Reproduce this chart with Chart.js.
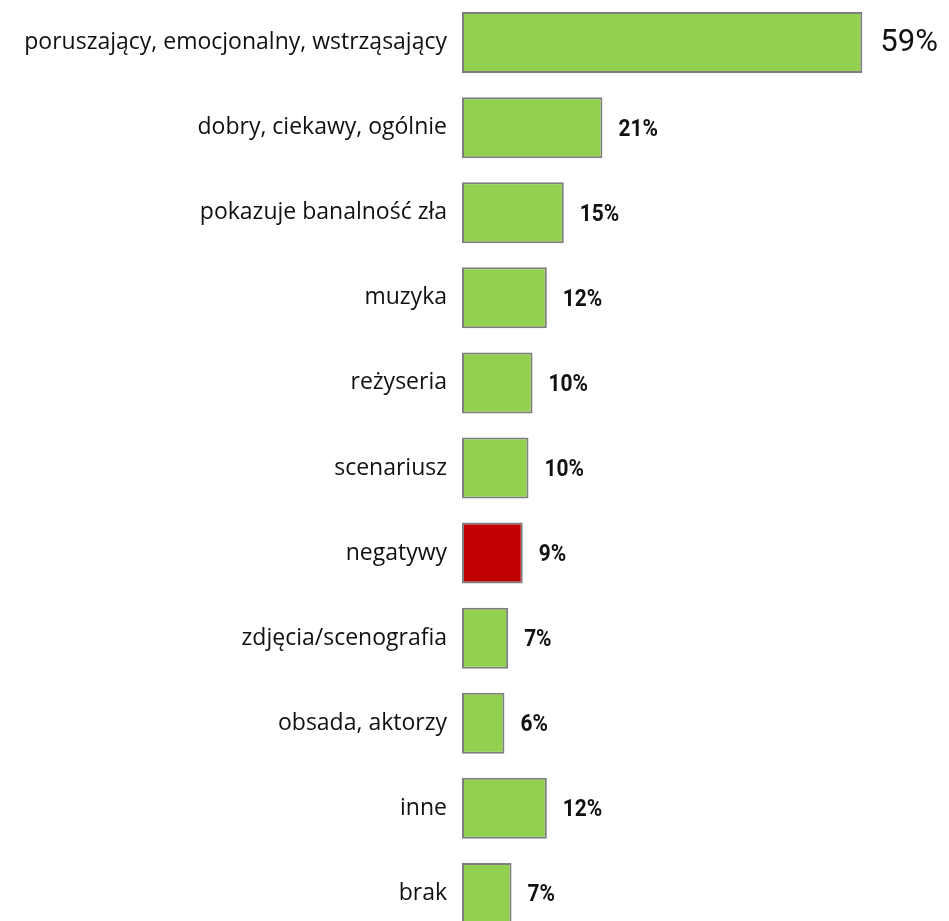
<!DOCTYPE html>
<html>
<head>
<meta charset="utf-8">
<script src="https://cdn.jsdelivr.net/npm/chart.js@4.4.0/dist/chart.umd.min.js"></script>
<style>
  html, body { margin:0; padding:0; background:#fff; overflow:hidden; }
  #wrap { width:949px; height:936px; position:relative; }
</style>
</head>
<body>
<div id="wrap"><canvas id="chart"></canvas></div>
<script>
const categories = [
  'poruszający, emocjonalny, wstrząsający',
  'dobry, ciekawy, ogólnie',
  'pokazuje banalność zła',
  'muzyka',
  'reżyseria',
  'scenariusz',
  'negatywy',
  'zdjęcia/scenografia',
  'obsada, aktorzy',
  'inne',
  'brak'
];
const values = [59, 20.7, 15, 12.5, 10.4, 9.8, 8.95, 6.8, 6.25, 12.5, 7.3];
const valueLabels = ['59%','21%','15%','12%','10%','10%','9%','7%','6%','12%','7%'];
const barColors = ['#92D050','#92D050','#92D050','#92D050','#92D050','#92D050','#C00000','#92D050','#92D050','#92D050','#92D050'];

// percentages drawn to the right of each bar, narrowed a bit to look like DIN
const valueLabelPlugin = {
  id:'valueLabels',
  afterDatasetsDraw(chart){
    const ctx = chart.ctx;
    const meta = chart.getDatasetMeta(0);
    ctx.save();
    ctx.fillStyle = '#111';
    ctx.textAlign = 'left';
    ctx.textBaseline = 'middle';
    meta.data.forEach((bar, i) => {
      if(i === 0){
        ctx.font = '400 31px Roboto';
        ctx.fillText(valueLabels[i], bar.x + 18, bar.y + 1);
      } else {
        ctx.save();
        ctx.translate(bar.x + 16, bar.y + 2);
        ctx.scale(0.87, 1);
        ctx.font = 'bold 24px Roboto';
        ctx.fillText(valueLabels[i], 0, 0);
        ctx.restore();
      }
    });
    ctx.restore();
  }
};

new Chart(document.getElementById('chart'), {
  type:'bar',
  data:{
    labels: categories,
    datasets:[{
      data: values,
      backgroundColor: barColors,
      borderColor:'#7F7F7F',
      borderWidth:2,
      borderSkipped:false,
      barPercentage:0.717,
      categoryPercentage:1
    }]
  },
  options:{
    indexAxis:'y',
    responsive:true,
    maintainAspectRatio:false,
    animation:false,
    layout:{ padding:{ left:0, right:12, top:0, bottom:0 } },
    plugins:{ legend:{display:false}, tooltip:{enabled:false} },
    scales:{
      x:{ display:false, min:0, max:70 },
      y:{
        grid:{ display:false, drawTicks:false },
        border:{ display:false },
        ticks:{ color:'#111', padding:15, font:{ family:'"Open Sans"', size:23 } },
        afterFit(scale){
          scale.width = 462;
          scale.paddingTop = 0;
          scale.paddingBottom = 0;
        }
      }
    }
  },
  plugins:[valueLabelPlugin]
});
</script>
</body>
</html>
